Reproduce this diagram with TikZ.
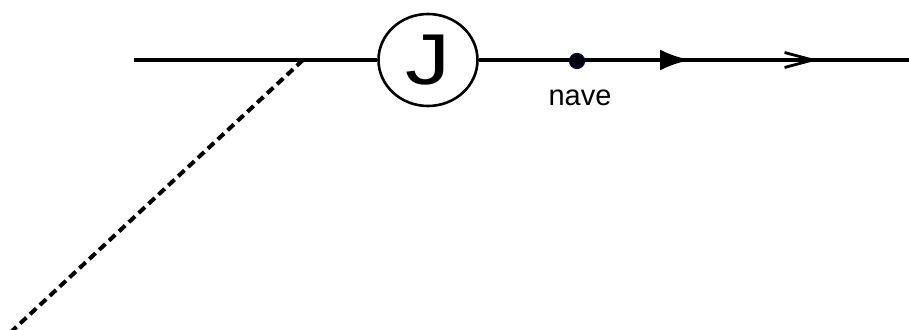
\documentclass[tikz,border=0pt]{standalone}
\usepackage{fontspec}
\setmainfont{Liberation Sans}
\usetikzlibrary{shapes.geometric,arrows.meta}
\begin{document}
\begin{tikzpicture}[x=1pt,y=-1pt,
  wire/.style={line width=3.6pt,black},
  dashwire/.style={line width=4pt,black,dash pattern=on 8.5pt off 5pt},
  jnode/.style={ellipse,draw,line width=2.6pt,minimum width=99pt,minimum height=92pt,inner sep=0pt,font=\fontsize{72}{72}\selectfont},
  dotnode/.style={circle,fill=black,draw=black!60!blue,line width=1.2pt,minimum size=15pt,inner sep=0pt},
  lbl/.style={font=\fontsize{29}{29}\selectfont,anchor=base,inner sep=0pt}
]
\useasboundingbox (0,0) rectangle (909,329);
\coordinate (start) at (134,60);
\coordinate (fork) at (303,60);
\node[jnode] (J) at (428,60) {\scalebox{1.25}[1]{J}};
\coordinate (a1) at (690,60);
\coordinate (a2) at (818,60);
\coordinate (end) at (909,60);
\coordinate (low) at (12,331);
\draw[dashwire] (fork) -- (low);
\draw[wire] (start) -- (J.west);
\draw[wire] (J.east) -- (end);
\draw[wire,-{Latex[length=30pt,width=21pt]}] (J.east) -- (a1);
\draw[wire,-{Straight Barb[length=28pt,width=15pt,line width=2.8pt]}] (a1) -- (a2);
\node[dotnode] (nave) at (577,61) {};
\node[lbl] (naveLabel) at (580,105) {nave};
\end{tikzpicture}
\end{document}
